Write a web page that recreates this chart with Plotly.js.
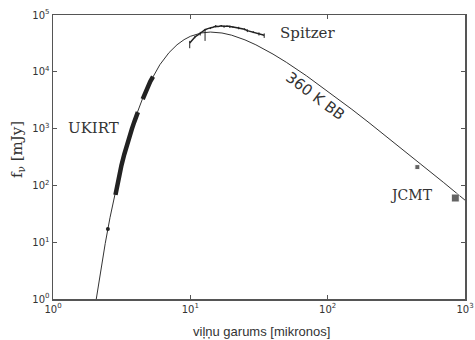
<!DOCTYPE html>
<html>
<head>
<meta charset="utf-8">
<script src="https://cdn.plot.ly/plotly-3.0.1.min.js"></script>
<style>html,body{margin:0;padding:0;background:#fff;}#chart{width:475px;height:340px;}</style>
</head>
<body>
<div id="chart"></div>
<script>
// 360 K blackbody curve (wavelength in microns, flux in mJy)
const bbWave = [2.05, 2.1, 2.2, 2.3, 2.4, 2.6, 2.8, 3.0, 3.25, 3.5, 4.0, 4.5, 5.0, 6.0, 7.0, 8.0, 9.0, 10, 12, 14, 17, 20, 25, 30, 40, 50, 70, 100, 150, 200, 300, 500, 700, 1000];
const bbFlux = [0.89, 1.32, 2.72, 5.25, 9.5, 27, 65, 136, 299, 576, 1608, 3429, 6077, 13336, 21800, 29935, 36804, 42111, 48300, 50090, 48200, 44097, 36474, 29868, 20487, 14706, 8519, 4579, 2183, 1271, 585, 216, 112, 55];

// UKIRT photometry / spectroscopy
const ukirtWave = [2.85, 3.0, 3.15, 3.3, 3.45, 3.6, 3.75, 3.9, 4.05, 4.15, null, 4.5, 4.7, 4.9, 5.1, 5.35];
const ukirtFlux = [68, 132, 225, 350, 520, 720, 980, 1300, 1650, 1950, null, 3300, 4300, 5500, 6700, 8200];
const ukirtDotWave = [2.51];
const ukirtDotFlux = [17];

// Spitzer spectrum
const spitzerWave = [9.9, 10.3, 10.8, 11.3, 11.8, 12.3, 12.8, 13.4, 14.0, 14.6, 15.3, 16.0, 16.8, 17.6, 18.5, 19.4, 20.4, 21.4, 22.5, 23.6, 24.8, 26.0, 27.3, 28.7, 30.1, 31.6, 33.2, 34.5];
const spitzerFlux = [32000, 35500, 41000, 44000, 47500, 52000, 55000, 57500, 58500, 61000, 63500, 62500, 64500, 63000, 64000, 62000, 61500, 60000, 59000, 57000, 56000, 53000, 51500, 50000, 48000, 46500, 45000, 44000];
const spitzerErrPlus = [3000, 0, 2000, 0, 3000, 0, 2000, 0, 2000, 0, 3000, 0, 2000, 3000, 0, 3000, 2000, 0, 3000, 0, 2000, 3000, 0, 2000, 0, 3000, 0, 3500];
const spitzerErrMinus = [6000, 0, 2000, 0, 4000, 0, 20000, 0, 2000, 0, 3000, 0, 2000, 3000, 0, 3000, 2000, 0, 3000, 0, 2000, 3000, 0, 2000, 0, 3000, 0, 4500];

// JCMT submm points
const jcmtWave = [450, 850];
const jcmtFlux = [210, 60];
const jcmtSize = [5, 8];

// axis ticks
const xTickVals = [1, 10, 100, 1000];
const xTickText = ['10<sup>0</sup>', '10<sup>1</sup>', '10<sup>2</sup>', '10<sup>3</sup>'];
const yTickVals = [1, 10, 100, 1000, 10000, 100000];
const yTickText = ['10<sup>0</sup>', '10<sup>1</sup>', '10<sup>2</sup>', '10<sup>3</sup>', '10<sup>4</sup>', '10<sup>5</sup>'];

const ink = '#222';
const traces = [
  {x: bbWave, y: bbFlux, mode: 'lines', line: {color: '#333', width: 1}, hoverinfo: 'skip'},
  {x: ukirtWave, y: ukirtFlux, mode: 'lines', connectgaps: false, line: {color: ink, width: 4.5}},
  {x: ukirtDotWave, y: ukirtDotFlux, mode: 'markers', marker: {color: ink, size: 4}},
  {x: spitzerWave, y: spitzerFlux, mode: 'lines', line: {color: ink, width: 1.5},
   error_y: {type: 'data', symmetric: false, array: spitzerErrPlus, arrayminus: spitzerErrMinus, color: ink, thickness: 1, width: 0}},
  {x: jcmtWave, y: jcmtFlux, mode: 'markers', marker: {color: ink, symbol: 'square', size: jcmtSize}}
];

const axisCommon = {
  type: 'log', showgrid: false, zeroline: false, showline: true, linecolor: '#555', linewidth: 1.5,
  mirror: 'ticks', ticks: 'inside', ticklen: 4, tickcolor: '#555', tickwidth: 1,
  tickfont: {family: 'DejaVu Sans', size: 10, color: '#333'}, tickmode: 'array'
};

function ann(text, px, py, font, angle) {
  return {text: text, xref: 'paper', yref: 'paper', x: (px - 53) / 412, y: (299 - py) / 284,
          xanchor: 'center', yanchor: 'middle', showarrow: false, textangle: angle || 0, font: font};
}
const serif = (s) => ({family: 'DejaVu Serif', size: s, color: '#333'});

const layout = {
  width: 475, height: 340,
  margin: {l: 53, r: 10, t: 15, b: 41},
  paper_bgcolor: '#fff', plot_bgcolor: '#fff',
  showlegend: false,
  xaxis: Object.assign({}, axisCommon, {range: [0, 3], tickvals: xTickVals, ticktext: xTickText}),
  yaxis: Object.assign({}, axisCommon, {range: [0, 5], tickvals: yTickVals, ticktext: yTickText}),
  annotations: [
    ann('Spitzer', 307, 33, serif(15)),
    ann('UKIRT', 93, 128, serif(15)),
    ann('JCMT', 411, 195, serif(14)),
    ann('360 K BB', 315, 96, {family: 'DejaVu Sans', size: 15, color: '#333'}, 37),
    ann('f<sub>ν</sub> [mJy]', 17, 150, serif(15), -90),
    ann('viļņu garums [mikronos]', 261, 331, {family: 'Liberation Sans', size: 13, color: '#333'})
  ]
};

Plotly.newPlot('chart', traces, layout, {displayModeBar: false, staticPlot: true});
</script>
</body>
</html>
